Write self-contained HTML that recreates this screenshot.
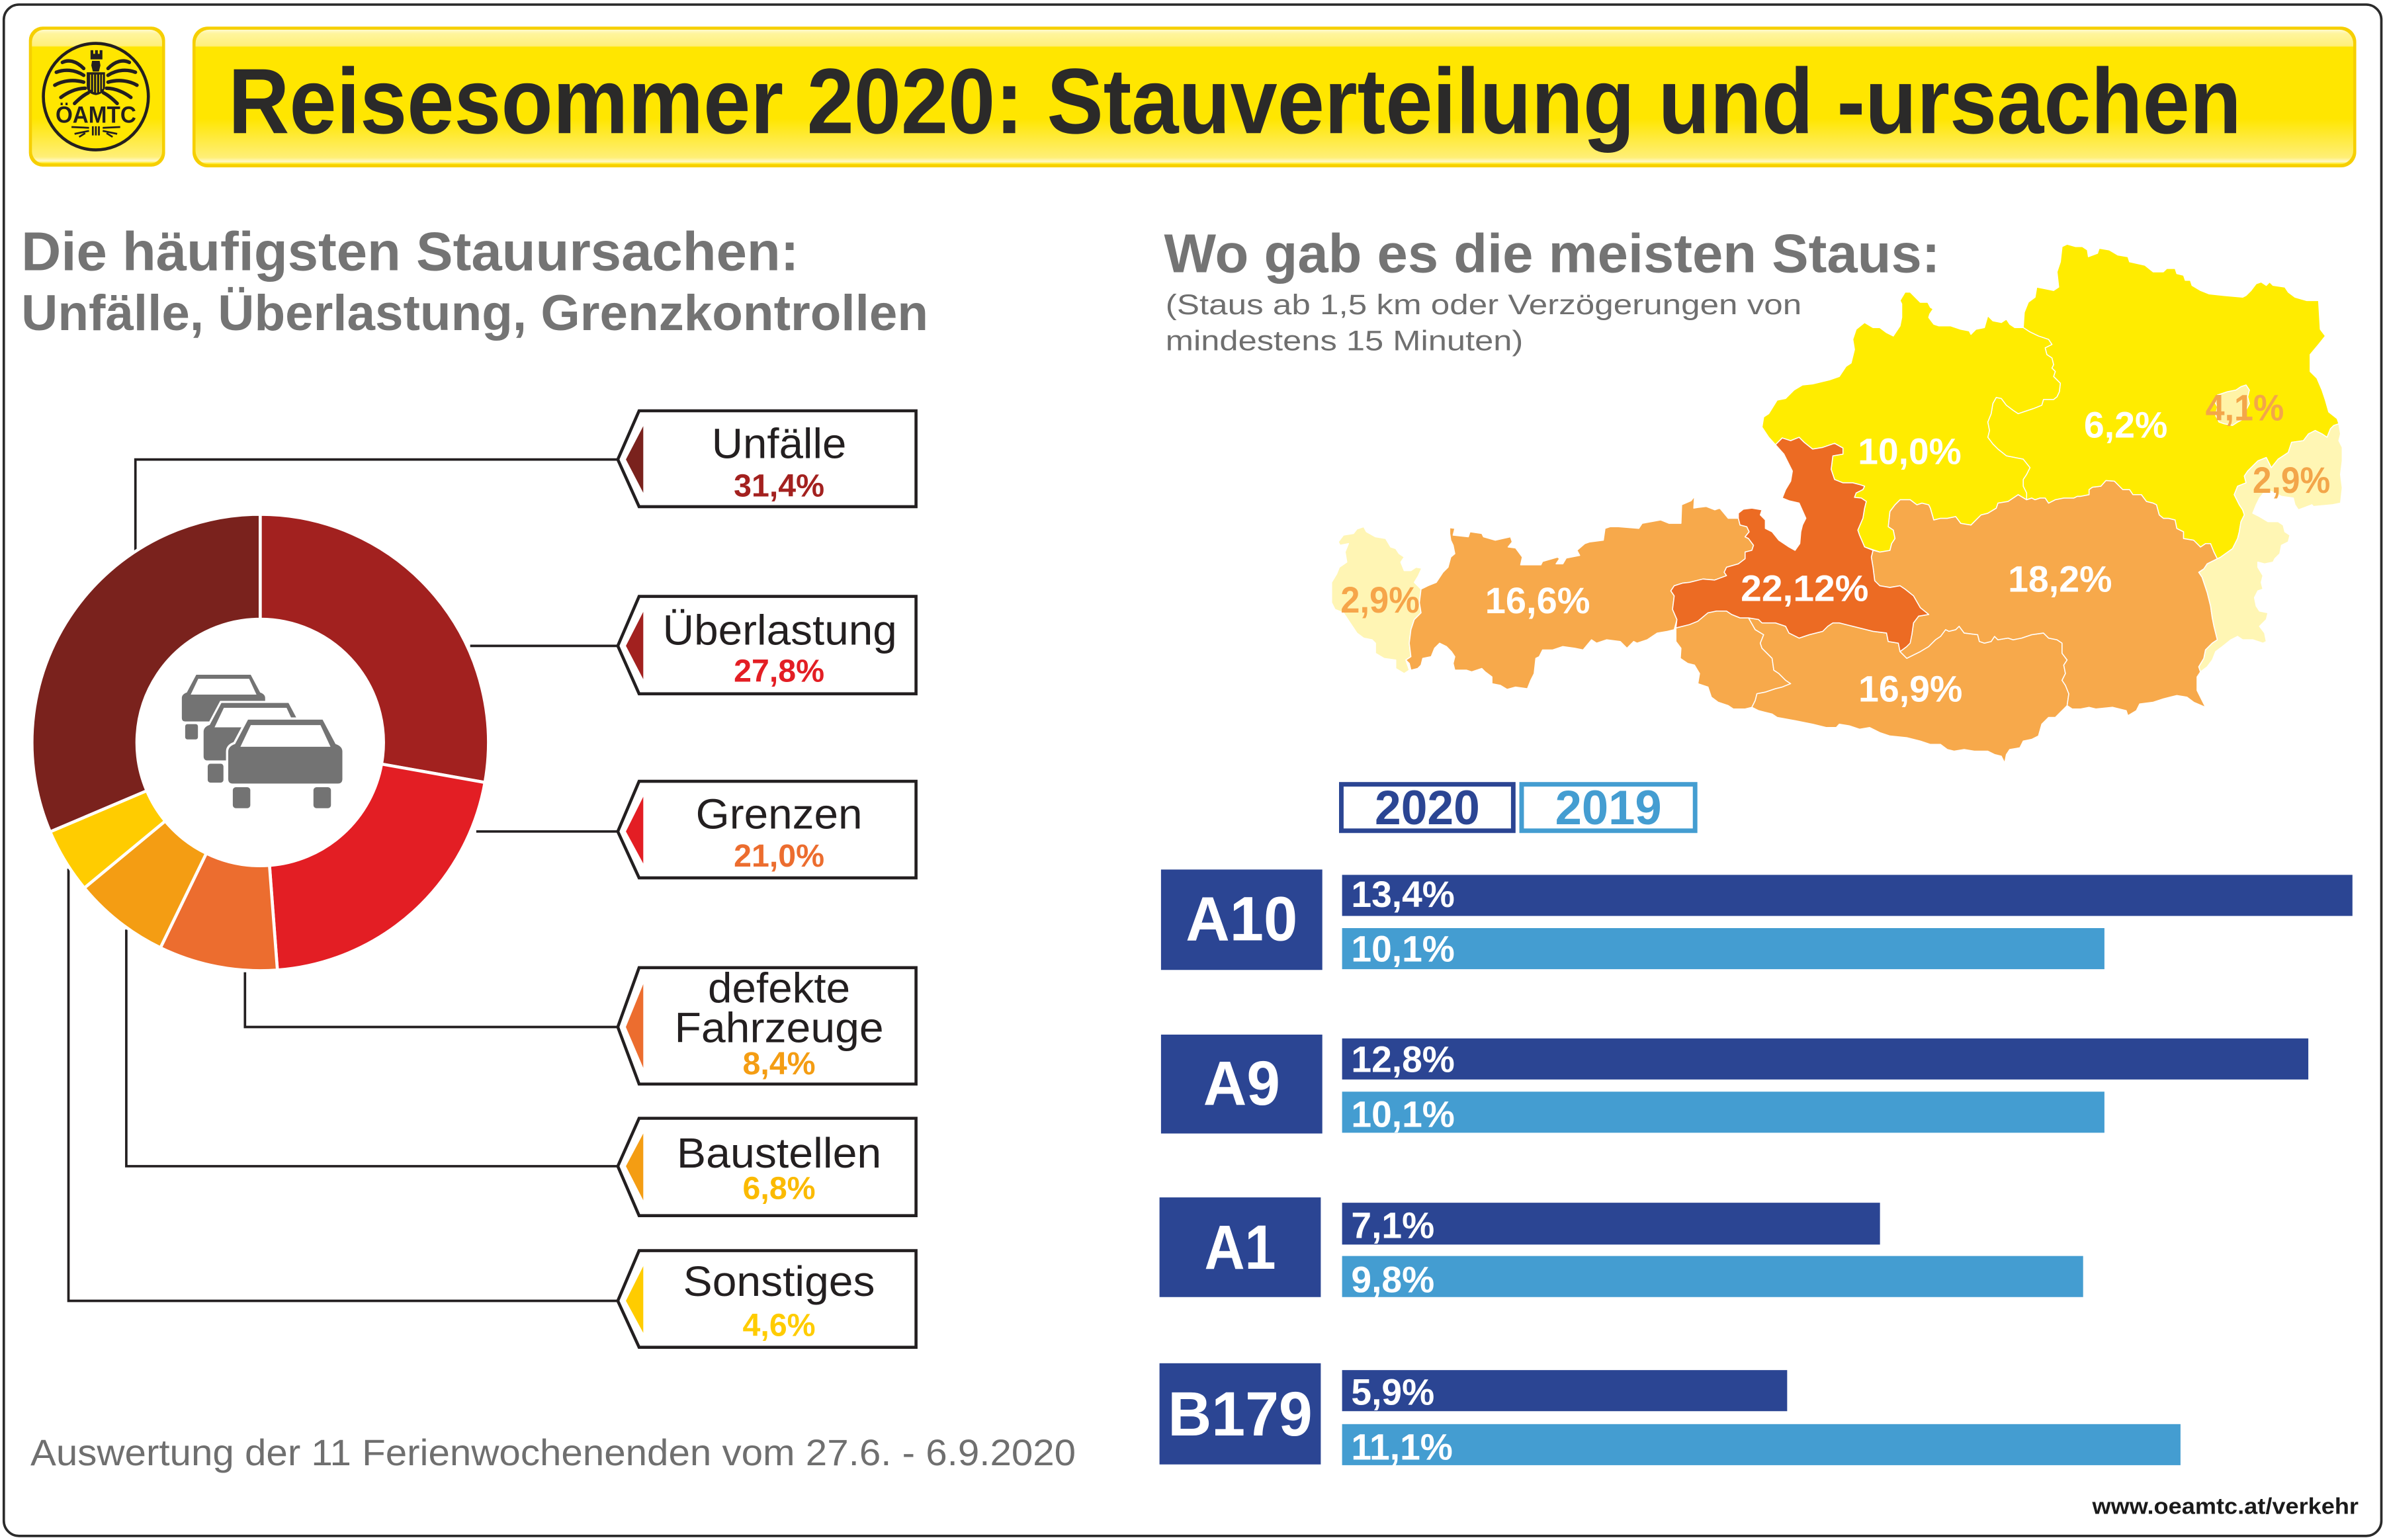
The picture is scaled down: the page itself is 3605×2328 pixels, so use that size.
<!DOCTYPE html>
<html>
<head>
<meta charset="utf-8">
<style>
html,body{margin:0;padding:0;background:#fff;}
svg{display:block;}
text{font-family:"Liberation Sans", Arial, sans-serif;}
</style>
</head>
<body>
<svg width="3605" height="2328" viewBox="0 0 1567.39 1012.17" xmlns="http://www.w3.org/2000/svg">
<defs>
<linearGradient id="yg" x1="0" y1="0" x2="0" y2="1">
 <stop offset="0" stop-color="#FFFBD0"/>
 <stop offset="0.03" stop-color="#FFF59C"/>
 <stop offset="0.12" stop-color="#FFF07A"/>
 <stop offset="0.13" stop-color="#FFE600"/>
 <stop offset="0.66" stop-color="#FFE600"/>
 <stop offset="0.95" stop-color="#FFEF78"/>
 <stop offset="0.98" stop-color="#FFF9C8"/>
 <stop offset="1" stop-color="#FFE600"/>
</linearGradient>
<g id="car">
 <path d="M13,0 H62 L70.5,16 Q75,17.5 75,21 V39 Q75,42 72,42 H3 Q0,42 0,39 V21 Q0,17.5 4.5,16 Z" fill="#737373"/>
 <path d="M14.8,3.6 H60.6 L67.2,17.8 H8 Z" fill="#fff"/>
 <rect x="3" y="44.4" width="11.5" height="13.8" rx="2" fill="#737373"/>
 <rect x="56" y="44.4" width="11.5" height="13.8" rx="2" fill="#737373"/>
</g>
<g id="carw" fill="#fff" stroke="#fff" stroke-width="3">
 <path d="M13,0 H62 L70.5,16 Q75,17.5 75,21 V39 Q75,42 72,42 H3 Q0,42 0,39 V21 Q0,17.5 4.5,16 Z"/>
 <rect x="3" y="44.4" width="11.5" height="13.8" rx="2"/>
 <rect x="56" y="44.4" width="11.5" height="13.8" rx="2"/>
</g>
</defs>

<!-- page border -->
<rect x="2.5" y="3" width="1562.5" height="1006.5" rx="10" fill="#fff" stroke="#2b2b2b" stroke-width="1.6"/>

<!-- logo box -->
<rect x="19" y="17.5" width="89.5" height="92" rx="9" fill="#F6CF00"/>
<rect x="21" y="19.5" width="85.5" height="88" rx="8" fill="url(#yg)"/>
<ellipse cx="63" cy="63.5" rx="34.5" ry="35" fill="#FFE600" stroke="#231F20" stroke-width="2"/>
<g fill="#231F20">
 <path d="M59.5,33 h1.8 v2.4 h1.2 v-2.4 h1.8 v2.4 h1.2 v-2.4 h1.8 v6 h-7.8 z"/>
 <path d="M60.5,40 h5 l0.5,3 l-1,4 h-4 l-1,-4 z"/>
 <path d="M57,47.5 h12 v9 q0,5 -6,6 q-6,-1 -6,-6 z"/>
</g>
<g stroke="#FFE600" stroke-width="0.6">
 <line x1="59.5" y1="49" x2="59.5" y2="59"/><line x1="61.5" y1="49" x2="61.5" y2="60.5"/>
 <line x1="63.5" y1="49" x2="63.5" y2="61"/><line x1="65.5" y1="49" x2="65.5" y2="60.5"/>
 <line x1="67.3" y1="49" x2="67.3" y2="58.5"/>
</g>
<g fill="none" stroke="#231F20" stroke-width="2.3" stroke-linecap="round">
 <path d="M55,45 C50,40 45,39 41,41"/>
 <path d="M55,49.5 C49,45.5 42,45.5 37,47.5"/>
 <path d="M55,54 C48,52 41,53 36,56"/>
 <path d="M56,58 C50,58 44,61 40,64"/>
 <path d="M58,61 C54,63 51,66 49,68"/>
 <path d="M71,45 C76,40 81,39 85,41"/>
 <path d="M71,49.5 C77,45.5 84,45.5 89,47.5"/>
 <path d="M71,54 C78,52 85,53 90,56"/>
 <path d="M70,58 C76,58 82,61 86,64"/>
 <path d="M68,61 C72,63 75,66 77,68"/>
</g>
<text x="63" y="80.6" font-size="15.5" font-weight="bold" fill="#231F20" text-anchor="middle" textLength="53" lengthAdjust="spacingAndGlyphs">ÖAMTC</text>
<g stroke="#231F20" stroke-width="1.2" fill="none">
 <line x1="61" y1="83" x2="61" y2="89"/><line x1="63" y1="83" x2="63" y2="89"/><line x1="65" y1="83" x2="65" y2="89"/>
 <path d="M58.5,84 L47,83.5 M58.5,86 L49,88 M56,87.5 L52,90"/>
 <path d="M67.5,84 L79,83.5 M67.5,86 L77,88 M70,87.5 L74,90"/>
</g>

<!-- title box -->
<rect x="126.5" y="17.5" width="1422" height="92.5" rx="10" fill="#F6CF00"/>
<rect x="128.5" y="19.5" width="1418" height="88.5" rx="9" fill="url(#yg)"/>
<text x="150" y="87.5" font-size="61" font-weight="bold" fill="#2B2A29" textLength="1323" lengthAdjust="spacingAndGlyphs">Reisesommer 2020: Stauverteilung und -ursachen</text>

<!-- left headings -->
<text x="14" y="177.5" font-size="36" font-weight="bold" fill="#747474" textLength="511" lengthAdjust="spacingAndGlyphs">Die häufigsten Stauursachen:</text>
<text x="14" y="217" font-size="33" font-weight="bold" fill="#747474" textLength="596" lengthAdjust="spacingAndGlyphs">Unfälle, Überlastung, Grenzkontrollen</text>

<!-- right headings -->
<text x="765" y="179" font-size="36" font-weight="bold" fill="#747474" textLength="510" lengthAdjust="spacingAndGlyphs">Wo gab es die meisten Staus:</text>
<text x="766" y="206.5" font-size="18.5" fill="#6F6F6F" textLength="418" lengthAdjust="spacingAndGlyphs">(Staus ab 1,5 km oder Verzögerungen von</text>
<text x="766" y="230.3" font-size="18.5" fill="#6F6F6F" textLength="235" lengthAdjust="spacingAndGlyphs">mindestens 15 Minuten)</text>

<!-- connector lines -->
<g fill="none" stroke="#231F20" stroke-width="1.6">
 <polyline points="89,362 89,302 406,302"/>
 <polyline points="309,424.5 406,424.5"/>
 <polyline points="313,546.5 406,546.5"/>
 <polyline points="161,639 161,675 406,675"/>
 <polyline points="83,611 83,766.5 406,766.5"/>
 <polyline points="45,571 45,855 406,855"/>
</g>

<!-- donut -->
<g stroke="#fff" stroke-width="2">
 <path d="M171,338 A150,150 0 0 1 318.69,514.26 L250.75,502.18 A81,81 0 0 0 171,407 Z" fill="#A2211F"/>
 <path d="M318.69,514.26 A150,150 0 0 1 182.30,637.57 L177.10,568.77 A81,81 0 0 0 250.75,502.18 Z" fill="#E31E24"/>
 <path d="M182.30,637.57 A150,150 0 0 1 105.43,622.91 L135.59,560.85 A81,81 0 0 0 177.10,568.77 Z" fill="#EC6D2F"/>
 <path d="M105.43,622.91 A150,150 0 0 1 55.42,583.61 L108.59,539.63 A81,81 0 0 0 135.59,560.85 Z" fill="#F49D13"/>
 <path d="M55.42,583.61 A150,150 0 0 1 32.96,546.70 L96.46,519.70 A81,81 0 0 0 108.59,539.63 Z" fill="#FFCC00"/>
 <path d="M32.96,546.70 A150,150 0 0 1 171,338 L171,407 A81,81 0 0 0 96.46,519.70 Z" fill="#7A221D"/>
</g>
<circle cx="171" cy="488" r="80" fill="#fff"/>
<!-- cars -->
<use href="#car" transform="translate(119.5,443.5) scale(0.73)"/>
<use href="#carw" transform="translate(133.8,462) scale(0.9)"/>
<use href="#car" transform="translate(133.8,462) scale(0.9)"/>
<use href="#carw" transform="translate(150,473)"/>
<use href="#car" transform="translate(150,473)"/>

<!-- label boxes -->
<g fill="none" stroke="#231F20" stroke-width="2">
 <path d="M420,270 H602 V333 H420 L406,302 Z"/>
 <path d="M420,392 H602 V456 H420 L406,424.5 Z"/>
 <path d="M420,513.5 H602 V577 H420 L406,546.5 Z"/>
 <path d="M420,636 H602 V712.5 H420 L406,675 Z"/>
 <path d="M420,735 H602 V799 H420 L406,766.5 Z"/>
 <path d="M420,822 H602 V885.5 H420 L406,855 Z"/>
</g>
<g stroke="#fff" stroke-width="1.5">
 <polygon points="423.5,277 410.5,302 423.5,327" fill="#7A221D"/>
 <polygon points="423.5,399 410.5,424.5 423.5,449.5" fill="#A2211F"/>
 <polygon points="423.5,520.5 410.5,546.5 423.5,570.5" fill="#E31E24"/>
 <polygon points="423.5,643 410.5,675 423.5,705.5" fill="#EC6D2F"/>
 <polygon points="423.5,742 410.5,766.5 423.5,792" fill="#F49D13"/>
 <polygon points="423.5,829 410.5,855 423.5,879" fill="#FFCC00"/>
</g>
<g font-size="28" fill="#231F20" text-anchor="middle">
 <text x="512" y="301" textLength="88.5" lengthAdjust="spacingAndGlyphs">Unfälle</text>
 <text x="512.5" y="423.7" textLength="154" lengthAdjust="spacingAndGlyphs">Überlastung</text>
 <text x="512" y="544.5" textLength="109.5" lengthAdjust="spacingAndGlyphs">Grenzen</text>
 <text x="512" y="659" textLength="93.5" lengthAdjust="spacingAndGlyphs">defekte</text>
 <text x="512" y="685" textLength="137.5" lengthAdjust="spacingAndGlyphs">Fahrzeuge</text>
 <text x="512" y="767.4" textLength="134.5" lengthAdjust="spacingAndGlyphs">Baustellen</text>
 <text x="512" y="851.8" textLength="126" lengthAdjust="spacingAndGlyphs">Sonstiges</text>
</g>
<g font-size="21" font-weight="bold" text-anchor="middle">
 <text x="512" y="326.4" fill="#A3211F">31,4%</text>
 <text x="512" y="448" fill="#E31E24">27,8%</text>
 <text x="512" y="569.6" fill="#EC6D2F">21,0%</text>
 <text x="512" y="706" fill="#F49D13">8,4%</text>
 <text x="512" y="788" fill="#FBBA00">6,8%</text>
 <text x="512" y="878" fill="#FFCC00">4,6%</text>
</g>

<!-- footer -->
<text x="20" y="963" font-size="24" fill="#6F6F6F" textLength="687" lengthAdjust="spacingAndGlyphs">Auswertung der 11 Ferienwochenenden vom 27.6. - 6.9.2020</text>
<text x="1375" y="995" font-size="15" font-weight="bold" fill="#1a1a1a" textLength="175" lengthAdjust="spacingAndGlyphs">www.oeamtc.at/verkehr</text>

<!-- MAP group A (west) -->
<g transform="translate(869.57 156.52) scale(0.22183)" stroke="#fff" stroke-width="3" stroke-linejoin="round">
 <polygon fill="#FFF5B4" points="120,855 128,870 155,885 185,890 200,915 215,920 225,935 240,945 230,960 240,985 260,985 275,975 292,978 282,1000 270,1020 290,1040 285,1080 290,1110 270,1130 260,1160 255,1200 260,1240 245,1250 255,1280 240,1290 215,1275 215,1250 180,1245 155,1230 155,1200 145,1190 120,1185 100,1170 80,1140 60,1110 35,1100 25,1080 25,1020 40,995 48,975 70,960 65,930 75,905 50,910 45,900 60,880 90,875 100,862"/>
 <polygon fill="#F7A94B" points="375,858 390,860 385,880 430,885 435,870 470,875 475,885 510,895 555,885 560,900 548,915 570,918 590,945 585,968 645,968 650,958 695,945 700,950 690,965 710,965 720,948 760,940 752,925 775,905 790,900 830,895 835,860 850,855 875,855 935,860 945,845 1000,835 1025,845 1060,845 1062,790 1090,778 1100,765 1098,800 1110,798 1135,795 1160,805 1175,800 1200,830 1230,830 1235,850 1255,855 1262,870 1250,885 1260,890 1275,910 1270,925 1250,930 1250,950 1230,965 1195,975 1188,990 1195,1000 1160,1013 1125,1010 1085,1020 1065,1022 1040,1030 1030,1045 1040,1060 1035,1100 1048,1130 1040,1160 1020,1165 990,1170 960,1190 930,1200 920,1195 900,1215 880,1195 840,1190 810,1200 795,1190 770,1220 745,1215 710,1210 680,1220 650,1220 640,1240 630,1245 625,1290 615,1310 605,1335 570,1330 545,1337 525,1325 500,1320 500,1300 480,1285 470,1275 440,1285 425,1280 390,1280 385,1260 390,1240 380,1225 365,1210 345,1200 330,1215 320,1240 295,1245 290,1265 280,1275 260,1280 255,1260 245,1250 260,1240 255,1200 260,1160 270,1130 290,1110 285,1080 290,1040 310,1030 335,1020 355,990 370,975 378,945 390,935 385,910 378,895 375,875"/>
 <polygon fill="#F7A94B" points="1045,1155 1085,1145 1110,1135 1140,1110 1165,1105 1195,1105 1210,1115 1235,1125 1260,1125 1280,1160 1305,1175 1295,1200 1300,1215 1330,1245 1335,1280 1350,1290 1370,1310 1385,1320 1360,1330 1340,1335 1310,1345 1285,1350 1280,1370 1270,1390 1250,1395 1215,1395 1200,1385 1170,1375 1150,1360 1140,1330 1110,1320 1115,1290 1100,1265 1080,1260 1058,1245 1060,1215 1045,1195"/>
 <polygon fill="#F7A94B" points="1260,1125 1290,1130 1300,1140 1340,1140 1370,1150 1380,1170 1410,1185 1440,1175 1480,1165 1495,1150 1510,1140 1529,1140 1569,1150 1629,1165 1669,1170 1674,1195 1704,1200 1709,1225 1729,1245 1749,1235 1769,1225 1794,1210 1814,1190 1829,1180 1844,1160 1854,1165 1874,1160 1884,1150 1899,1170 1939,1175 1944,1195 1959,1200 1979,1195 1989,1180 1999,1190 2029,1185 2044,1190 2069,1185 2099,1175 2134,1170 2149,1185 2174,1190 2189,1200 2189,1230 2204,1250 2194,1265 2199,1290 2189,1310 2199,1325 2209,1350 2204,1385 2194,1395 2184,1405 2169,1420 2149,1420 2129,1440 2119,1475 2099,1485 2074,1490 2064,1510 2034,1515 2024,1530 2019,1555 2009,1535 1989,1530 1969,1520 1929,1520 1899,1515 1869,1520 1849,1515 1829,1500 1799,1500 1769,1490 1729,1480 1679,1475 1649,1465 1619,1450 1589,1455 1559,1445 1529,1440 1520,1450 1490,1450 1450,1440 1400,1430 1345,1420 1330,1410 1290,1400 1270,1390 1280,1370 1285,1350 1310,1345 1340,1335 1360,1330 1385,1320 1370,1310 1350,1290 1335,1280 1330,1245 1300,1215 1295,1200 1305,1175 1280,1160"/>
</g>
<!-- MAP group B (east) -->
<g transform="translate(1208.75 156.52) scale(0.22183)" stroke="#fff" stroke-width="3" stroke-linejoin="round">
 <polygon fill="#F7A94B" points="100,925 120,930 150,925 155,905 165,890 160,865 145,855 150,810 165,790 180,775 210,775 230,790 245,785 265,790 270,800 280,835 300,830 320,830 345,825 360,845 390,850 400,840 420,820 440,815 465,800 470,785 500,780 530,760 555,775 570,770 580,775 595,770 610,770 620,785 640,775 665,770 695,770 705,765 715,765 740,760 740,745 750,738 775,735 790,718 815,720 830,735 840,745 860,745 870,760 895,760 910,780 930,785 940,790 948,820 960,830 975,830 995,835 1000,860 1020,870 1020,890 1050,895 1070,915 1085,905 1100,905 1110,930 1120,950 1090,965 1080,980 1065,990 1075,1005 1090,1050 1100,1090 1105,1125 1110,1150 1120,1190 1105,1200 1085,1220 1080,1245 1065,1270 1070,1285 1060,1300 1060,1340 1075,1370 1085,1390 1050,1375 1030,1360 1000,1355 980,1360 960,1365 930,1375 890,1380 880,1400 855,1415 850,1400 830,1395 810,1390 760,1395 740,1390 715,1395 690,1395 675,1385 680,1350 670,1325 660,1310 670,1290 665,1265 675,1250 660,1230 660,1200 645,1190 620,1185 605,1170 570,1175 540,1185 515,1190 500,1185 470,1190 460,1180 450,1195 430,1200 415,1195 410,1175 370,1170 355,1150 345,1160 325,1165 315,1160 300,1180 285,1190 265,1210 240,1225 220,1235 200,1245 180,1225 200,1210 215,1175 220,1140 235,1120 265,1115 240,1095 220,1060 195,1040 180,1030 150,1035 120,1030 105,1015 100,975 95,945"/>
 <polygon fill="#FFEC00" points="545,265 548,220 560,190 580,175 585,145 610,150 635,155 650,145 645,100 655,70 660,25 675,18 700,25 720,25 735,35 738,55 765,45 770,30 800,35 825,50 855,55 860,70 905,80 930,100 960,100 970,90 995,90 1000,105 1020,110 1025,125 1040,125 1045,140 1070,155 1095,165 1140,170 1195,175 1205,170 1220,155 1235,135 1250,130 1265,140 1275,130 1285,140 1320,145 1330,160 1350,175 1385,185 1420,185 1425,270 1440,290 1420,315 1395,345 1395,395 1415,415 1430,450 1440,480 1450,515 1475,535 1480,550 1465,555 1455,565 1445,590 1430,580 1410,570 1390,580 1375,600 1340,605 1330,635 1300,655 1280,680 1265,650 1240,660 1225,675 1210,690 1200,705 1205,725 1180,735 1170,760 1185,790 1195,805 1200,820 1190,840 1185,870 1180,890 1165,920 1130,945 1120,950 1110,930 1100,905 1085,905 1070,915 1050,895 1020,890 1020,870 1000,860 995,835 975,830 960,830 948,820 940,790 930,785 910,780 895,760 870,760 860,745 840,745 830,735 815,720 790,718 775,735 750,738 740,745 740,760 715,765 705,765 695,770 665,770 640,775 620,785 610,770 595,770 580,775 570,770 555,775 545,755 545,735 545,715 555,700 565,680 545,655 520,650 495,645 470,625 455,610 440,590 445,570 440,545 450,520 455,490 465,472 480,475 495,495 515,510 530,520 545,515 575,505 600,495 605,478 635,478 645,470 652,455 655,430 645,420 635,410 640,395 630,385 635,375 630,355 615,345 610,325 630,315 620,300 590,290 565,278"/>
 <polygon fill="#FFF6B4" points="1480,550 1485,580 1480,600 1490,620 1490,660 1485,700 1490,740 1485,785 1460,790 1405,795 1400,790 1360,805 1350,790 1345,770 1310,765 1290,755 1265,745 1245,770 1235,790 1225,815 1245,825 1270,840 1300,840 1315,850 1320,870 1335,880 1330,900 1310,910 1305,935 1290,950 1285,960 1260,965 1240,960 1240,975 1255,1000 1250,1020 1255,1040 1240,1045 1230,1065 1235,1090 1245,1105 1270,1110 1265,1130 1245,1150 1260,1170 1265,1195 1255,1200 1225,1190 1195,1190 1180,1180 1160,1190 1135,1210 1115,1225 1105,1250 1090,1270 1070,1285 1065,1270 1080,1245 1085,1220 1105,1200 1120,1190 1110,1150 1105,1125 1100,1090 1090,1050 1075,1005 1065,990 1080,980 1090,965 1120,950 1130,945 1165,920 1180,890 1185,870 1190,840 1200,820 1195,805 1185,790 1170,760 1180,735 1205,725 1200,705 1210,690 1225,675 1240,660 1265,650 1280,680 1300,655 1330,635 1340,605 1375,600 1390,580 1410,570 1430,580 1445,590 1455,565 1465,555"/>
 <polygon fill="#FFF3A6" points="1120,465 1150,455 1175,450 1190,440 1205,435 1215,450 1210,470 1215,490 1205,510 1200,535 1180,545 1165,555 1140,550 1125,545 1115,525 1120,500 1110,480"/>
</g>
<!-- MAP group A overlay (UA + Salzburg) -->
<g transform="translate(869.57 156.52) scale(0.22183)" stroke="#fff" stroke-width="3" stroke-linejoin="round">
 <polygon fill="#FFEC00" points="1340,612 1320,590 1300,560 1305,530 1320,520 1345,480 1370,475 1395,450 1420,435 1450,432 1500,420 1529,410 1549,380 1564,370 1574,330 1569,300 1579,270 1604,250 1629,265 1649,265 1669,280 1689,290 1709,260 1714,235 1714,195 1709,185 1724,160 1739,160 1754,175 1769,190 1791,190 1799,205 1807,210 1797,225 1794,235 1809,255 1824,260 1859,260 1889,270 1914,275 1919,285 1934,270 1959,265 1969,230 1984,245 2009,250 2024,240 2034,255 2049,265 2074,265 2094,278 2119,290 2149,300 2159,315 2139,325 2144,345 2159,355 2164,375 2159,385 2169,395 2164,410 2174,420 2184,430 2181,455 2174,470 2164,478 2134,478 2129,495 2104,505 2074,515 2059,520 2044,510 2024,495 2009,475 1994,472 1984,490 1979,520 1969,545 1974,570 1969,590 1984,610 1999,625 2024,645 2049,650 2074,655 2094,680 2084,700 2074,715 2074,735 2084,755 2084,775 2059,760 2029,780 1999,785 1994,800 1969,815 1949,820 1929,840 1919,850 1889,845 1874,825 1849,830 1829,830 1809,835 1799,800 1794,790 1774,785 1759,790 1739,775 1709,775 1694,790 1679,810 1674,855 1689,865 1694,890 1684,905 1679,925 1649,930 1619,920 1604,915 1589,880 1584,865 1599,830 1604,800 1609,780 1594,770 1574,768 1579,755 1599,745 1604,735 1589,730 1569,725 1540,725 1515,715 1505,685 1510,645 1540,640 1540,622 1515,608 1480,620 1450,625 1425,605 1410,590 1385,600 1360,592"/>
 <polygon fill="#EC6B23" points="1340,612 1360,592 1385,600 1410,590 1425,605 1450,625 1480,620 1515,608 1540,622 1540,640 1510,645 1505,685 1515,715 1540,725 1549,725 1569,725 1589,730 1604,735 1599,745 1579,755 1574,768 1594,770 1609,780 1604,800 1599,830 1584,865 1589,880 1604,915 1629,925 1624,945 1629,975 1634,1015 1649,1030 1679,1035 1709,1030 1724,1040 1749,1060 1769,1095 1794,1115 1764,1120 1749,1140 1744,1175 1739,1200 1729,1210 1709,1225 1704,1200 1674,1195 1669,1170 1629,1165 1569,1150 1529,1140 1510,1140 1495,1150 1480,1165 1440,1175 1410,1185 1380,1170 1370,1150 1340,1140 1300,1140 1290,1130 1260,1125 1235,1125 1210,1115 1195,1105 1165,1105 1140,1110 1110,1135 1085,1145 1045,1155 1048,1130 1035,1100 1040,1060 1030,1045 1040,1030 1065,1022 1085,1020 1125,1010 1160,1013 1195,1000 1188,990 1195,975 1230,965 1250,950 1250,930 1270,925 1275,910 1260,890 1250,885 1262,870 1255,855 1235,850 1230,830 1230,815 1245,803 1270,800 1300,805 1295,820 1310,835 1310,860 1330,870 1350,895 1380,915 1398,925 1412,905 1415,870 1420,850 1430,830 1410,785 1380,778 1360,770 1370,745 1385,720 1390,690 1365,640"/>
</g>

<!-- map labels -->
<g font-size="24" font-weight="bold">
 <text x="881" y="402.5" fill="#F6A54A" textLength="52" lengthAdjust="spacingAndGlyphs">2,9%</text>
 <text x="976" y="403" fill="#fff" textLength="69" lengthAdjust="spacingAndGlyphs">16,6%</text>
 <text x="1144" y="395" fill="#fff" textLength="84" lengthAdjust="spacingAndGlyphs">22,12%</text>
 <text x="1221" y="305" fill="#fff" textLength="68" lengthAdjust="spacingAndGlyphs">10,0%</text>
 <text x="1369.5" y="287.5" fill="#fff" textLength="55" lengthAdjust="spacingAndGlyphs">6,2%</text>
 <text x="1449.4" y="276.3" fill="#F3A64A" textLength="51.6" lengthAdjust="spacingAndGlyphs">4,1%</text>
 <text x="1480.4" y="324" fill="#F3A64A" textLength="51" lengthAdjust="spacingAndGlyphs">2,9%</text>
 <text x="1319.6" y="389" fill="#fff" textLength="68.4" lengthAdjust="spacingAndGlyphs">18,2%</text>
 <text x="1221.3" y="461" fill="#fff" textLength="68.4" lengthAdjust="spacingAndGlyphs">16,9%</text>
</g>

<!-- legend -->
<rect x="881.5" y="515.5" width="113" height="30.5" fill="#fff" stroke="#2B4593" stroke-width="3"/>
<rect x="1000" y="515.5" width="114" height="30.5" fill="#fff" stroke="#449DD1" stroke-width="3"/>
<text x="938" y="541.7" font-size="32" font-weight="bold" fill="#2B4593" text-anchor="middle" textLength="69" lengthAdjust="spacingAndGlyphs">2020</text>
<text x="1057" y="541.7" font-size="32" font-weight="bold" fill="#449DD1" text-anchor="middle" textLength="70" lengthAdjust="spacingAndGlyphs">2019</text>

<!-- bars -->
<g fill="#2B4593">
 <rect x="763" y="571.5" width="106" height="66"/>
 <rect x="763" y="680" width="106" height="65"/>
 <rect x="762" y="787" width="106" height="65.5"/>
 <rect x="762" y="896" width="106" height="66.5"/>
 <rect x="882" y="575" width="664" height="27"/>
 <rect x="882" y="682.5" width="635" height="27"/>
 <rect x="882" y="790.5" width="353.5" height="27.5"/>
 <rect x="882" y="900.5" width="292.5" height="27"/>
</g>
<g fill="#449DD1">
 <rect x="882" y="610" width="501" height="27"/>
 <rect x="882" y="717.5" width="501" height="27"/>
 <rect x="882" y="825.5" width="487" height="27"/>
 <rect x="882" y="936" width="551" height="27"/>
</g>
<g font-size="41" font-weight="bold" fill="#fff" text-anchor="middle">
 <text x="816" y="618" textLength="73.5" lengthAdjust="spacingAndGlyphs">A10</text>
 <text x="816" y="726" textLength="50.5" lengthAdjust="spacingAndGlyphs">A9</text>
 <text x="815" y="834" textLength="47" lengthAdjust="spacingAndGlyphs">A1</text>
 <text x="815" y="943.5" textLength="95" lengthAdjust="spacingAndGlyphs">B179</text>
</g>
<g font-size="24" font-weight="bold" fill="#fff">
 <text x="888" y="596">13,4%</text>
 <text x="888" y="632">10,1%</text>
 <text x="888" y="704.6">12,8%</text>
 <text x="888" y="740.7">10,1%</text>
 <text x="888" y="813.6">7,1%</text>
 <text x="888" y="849.4">9,8%</text>
 <text x="888" y="923.3">5,9%</text>
 <text x="888" y="959.3">11,1%</text>
</g>
</svg>
</body>
</html>
